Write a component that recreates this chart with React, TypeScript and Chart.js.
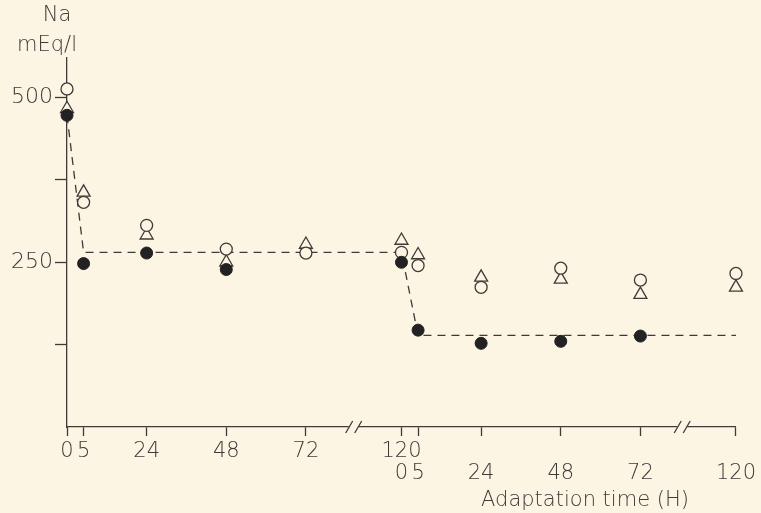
import React, { useEffect, useRef } from "react";
import { Chart, registerables } from "chart.js";

Chart.register(...registerables);

// ---- data (hours within each adaptation phase; Na in mEq/l) ----
const openCircleHours1 = [0, 5, 24, 48, 72, 120];
const openCircleNa1 = [513, 341, 306, 270, 264, 265];
const openCircleHours2 = [5, 24, 48, 72, 120];
const openCircleNa2 = [245, 212, 241, 223, 233];

const triangleHours1 = [0, 5, 24, 48, 72, 120];
const triangleNa1 = [483, 356, 291, 250, 277, 283];
const triangleHours2 = [5, 24, 48, 72, 120];
const triangleNa2 = [261, 227, 224, 201, 212];

const filledHours1 = [0, 5, 24, 48, 120];
const filledNa1 = [473, 248, 264, 239, 250];
const filledHours2 = [5, 24, 48, 72];
const filledNa2 = [147, 127, 130, 138];

const fitHours1 = [0, 5, 120];
const fitNa1 = [473, 265, 265];
const fitHours2 = [5, 120];
const fitNa2 = [139, 139];

const tickHours1 = [0, 5, 24, 48, 72, 120];
const tickLabels1: (string | string[])[] = ["0", "5", "24", "48", "72", ["120", "0"]];
const tickHours2 = [5, 24, 48, 72, 120];
const tickLabels2: (string | string[])[] = [["", "5"], ["", "24"], ["", "48"], ["", "72"], ["", "120"]];

const yTicks = [125, 250, 375, 500];
const yLabelled = [250, 500];

const breakHours1 = 96;
const breakHours2 = 93;

// broken time axis: 0-72 h linear, 72-120 h compressed
const BREAK_START = 72;
const SQUEEZE = 0.6;
const PHASE_SPAN = BREAK_START + (120 - BREAK_START) * SQUEEZE;
function axisPos(phase: number, h: number): number {
  const local = h <= BREAK_START ? h : BREAK_START + (h - BREAK_START) * SQUEEZE;
  return phase * PHASE_SPAN + local;
}
const pts = (phase: number, hs: number[], vs: number[]) =>
  hs.map((h, i) => ({ x: axisPos(phase, h), y: vs[i] }));

const BG = "#fcf5e3";
const INK = "#3d3a38";
const FONT = "'DejaVu Sans', sans-serif";

export default function App() {
  const ref = useRef<HTMLCanvasElement | null>(null);

  useEffect(() => {
    if (!ref.current) return;
    const tickPositions = [
      ...tickHours1.map((h) => axisPos(0, h)),
      ...tickHours2.map((h) => axisPos(1, h)),
    ];
    const tickTexts = [...tickLabels1, ...tickLabels2];

    const decor = {
      id: "decor",
      beforeDraw(chart: any) {
        const ctx = chart.ctx;
        ctx.save();
        ctx.fillStyle = BG;
        ctx.fillRect(0, 0, chart.width, chart.height);
        ctx.restore();
      },
      afterDraw(chart: any) {
        const ctx = chart.ctx;
        const xs = chart.scales.x;
        const yb = chart.chartArea.bottom;
        ctx.save();
        [axisPos(0, breakHours1), axisPos(1, breakHours2)].forEach((p) => {
          const px = xs.getPixelForValue(p);
          ctx.fillStyle = BG;
          ctx.fillRect(px - 5, yb - 3, 10, 6);
          ctx.strokeStyle = INK;
          ctx.lineWidth = 1.3;
          ctx.beginPath();
          ctx.moveTo(px - 8, yb + 6);
          ctx.lineTo(px - 1, yb - 6);
          ctx.moveTo(px + 1, yb + 6);
          ctx.lineTo(px + 8, yb - 6);
          ctx.stroke();
        });
        ctx.fillStyle = INK;
        ctx.textAlign = "center";
        ctx.textBaseline = "middle";
        ctx.font = `200 21px ${FONT}`;
        ctx.fillText("Na", 57, 16);
        ctx.fillText("mEq/l", 47, 46);
        ctx.font = `200 21px ${FONT}`;
        ctx.fillText("Adaptation time (H)", 585, 501);
        ctx.restore();
      },
    };

    const chart = new Chart(ref.current, {
      type: "scatter",
      data: {
        datasets: [
          {
            label: "filled 1",
            data: pts(0, filledHours1, filledNa1),
            pointStyle: "circle",
            pointRadius: 6,
            backgroundColor: "#222",
            borderColor: "#222",
            borderWidth: 1,
          },
          {
            label: "filled 2",
            data: pts(1, filledHours2, filledNa2),
            pointStyle: "circle",
            pointRadius: 6,
            backgroundColor: "#222",
            borderColor: "#222",
            borderWidth: 1,
          },
          {
            label: "open circle 1",
            data: pts(0, openCircleHours1, openCircleNa1),
            pointStyle: "circle",
            pointRadius: 6,
            backgroundColor: BG,
            borderColor: INK,
            borderWidth: 1.3,
          },
          {
            label: "open circle 2",
            data: pts(1, openCircleHours2, openCircleNa2),
            pointStyle: "circle",
            pointRadius: 6,
            backgroundColor: BG,
            borderColor: INK,
            borderWidth: 1.3,
          },
          {
            label: "triangle 1",
            data: pts(0, triangleHours1, triangleNa1),
            pointStyle: "triangle",
            pointRadius: 7.5,
            backgroundColor: BG,
            borderColor: INK,
            borderWidth: 1.3,
          },
          {
            label: "triangle 2",
            data: pts(1, triangleHours2, triangleNa2),
            pointStyle: "triangle",
            pointRadius: 7.5,
            backgroundColor: BG,
            borderColor: INK,
            borderWidth: 1.3,
          },
          {
            label: "fit",
            type: "line",
            data: [...pts(0, fitHours1, fitNa1), ...pts(1, fitHours2, fitNa2)],
            borderColor: INK,
            borderWidth: 1.3,
            borderDash: [8, 6],
            pointRadius: 0,
            fill: false,
            tension: 0,
          },
        ] as any,
      },
      options: {
        animation: false,
        responsive: false,
        maintainAspectRatio: false,
        clip: false as any,
        layout: { padding: { top: 58, right: 25, left: 0, bottom: 0 } },
        plugins: {
          legend: { display: false },
          tooltip: { enabled: false },
        },
        scales: {
          x: {
            type: "linear",
            min: 0,
            max: axisPos(1, 120),
            afterBuildTicks: (s: any) => {
              s.ticks = tickPositions.map((v) => ({ value: v }));
            },
            afterFit: (s: any) => {
              s.height = 86;
            },
            grid: {
              drawOnChartArea: false,
              drawTicks: true,
              tickLength: 9,
              tickColor: INK,
              tickWidth: 1.3,
            },
            border: { display: true, color: INK, width: 1.3 },
            ticks: {
              autoSkip: false,
              maxRotation: 0,
              minRotation: 0,
              padding: 5,
              color: INK,
              font: { family: FONT, size: 21, weight: "200" as any, lineHeight: "22px" as any },
              callback: (v: any) => {
                const i = tickPositions.findIndex((p) => Math.abs(p - v) < 1e-6);
                return i >= 0 ? (tickTexts[i] as any) : "";
              },
            },
          },
          y: {
            type: "linear",
            min: 0,
            max: 560,
            afterBuildTicks: (s: any) => {
              s.ticks = yTicks.map((v) => ({ value: v }));
            },
            afterFit: (s: any) => {
              s.width = 67;
            },
            grid: {
              drawOnChartArea: false,
              drawTicks: true,
              tickLength: 12,
              tickColor: INK,
              tickWidth: 1.3,
            },
            border: { display: true, color: INK, width: 1.3 },
            ticks: {
              padding: 2,
              color: INK,
              font: { family: FONT, size: 22, weight: "200" as any },
              callback: (v: any) => (yLabelled.includes(v) ? String(v) : ""),
            },
          },
        },
      } as any,
      plugins: [decor],
    });
    return () => chart.destroy();
  }, []);

  return (
    <div style={{ position: "absolute", left: 0, top: 0, width: 761, height: 513, background: BG }}>
      <canvas ref={ref} width={761} height={513} style={{ width: 761, height: 513 }} />
    </div>
  );
}
